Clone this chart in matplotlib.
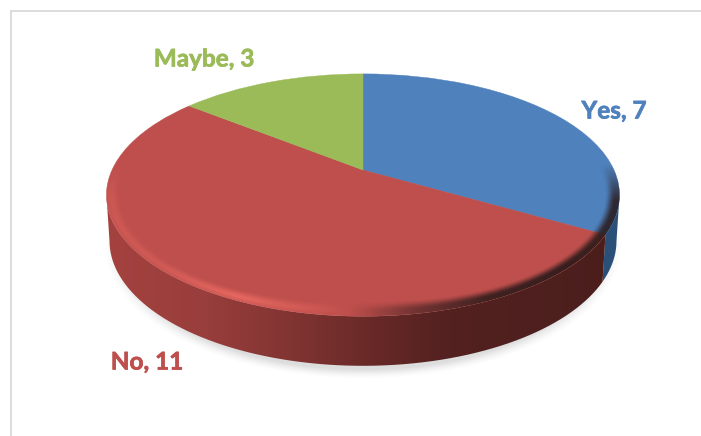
import numpy as np
import matplotlib
matplotlib.use("Agg")
import matplotlib.pyplot as plt
import matplotlib.patheffects as pe
from matplotlib.path import Path
from matplotlib.patches import PathPatch
from matplotlib.transforms import Transform
from matplotlib.colors import LinearSegmentedColormap

categories = ["Yes", "No", "Maybe"]
values = [7, 11, 3]
colors = ["#4F81BD", "#BE4F4C", "#9BBB59"]

W, H = 701, 436


# tilted disc: unit circle to pixels, with perspective
class Tilt(Transform):
	input_dims = 2
	output_dims = 2
	has_inverse = False

	def __init__(self, cx, cy, a, b, k=0.207):
		super().__init__()
		self.cx, self.cy, self.a, self.b, self.k = cx, cy, a, b, k

	def transform_non_affine(self, xy):
		xy = np.asarray(xy)
		d = 1 + self.k * xy[:, 1]
		return np.column_stack([self.cx + self.a * xy[:, 0] / d, self.cy - self.b * xy[:, 1] / d])


top = Tilt(363, 170, 251, 116)
bottom = Tilt(363, 215, 248, 119.6)


def rim(tilt, deg):
	t = np.radians(deg)
	return tilt.transform_non_affine(np.column_stack([np.sin(t), np.cos(t)]))


def wall(ax, deg_from, deg_to, stops):
	deg = np.linspace(deg_from, deg_to, 80)
	pts = np.vstack([rim(top, deg), rim(bottom, deg)[::-1]])
	patch = PathPatch(Path(pts, closed=False), fc="none", ec="none")
	ax.add_patch(patch)
	cmap = LinearSegmentedColormap.from_list("w", stops)
	img = ax.imshow(np.linspace(0, 1, 256)[None, :], extent=(100, 630, 380, 190), cmap=cmap, aspect="auto", zorder=2)
	img.set_clip_path(patch)


def label(ax, x, y, i):
	ax.text(x, y, "%s, %d" % (categories[i], values[i]), color=colors[i], fontsize=17.5, family="Lato", weight="bold",
		ha="center", va="center", zorder=5, path_effects=[pe.withStroke(linewidth=0.5, foreground=colors[i])])


fig = plt.figure(figsize=(W / 100, H / 100), dpi=100)
ax = fig.add_axes([0, 0, 1, 1])

yy, xx = np.mgrid[0:H, 0:W] + 0.5

# soft shadow under the disc
r = np.hypot((xx - 363) / 259, (yy - 247) / 132)
fade = np.clip((1.0 - r) / 0.07, 0, 1)
shadow = np.zeros((H, W, 4))
shadow[..., :3] = 0.5
shadow[..., 3] = 0.26 * fade ** 1.5
ax.imshow(shadow, extent=(0, W, H, 0), aspect="auto", zorder=1, interpolation="bilinear")

# side wall, angles clockwise from the top, 102 and 258 are the silhouette
edges = np.cumsum(values) / np.sum(values) * 360
wall(ax, 102, edges[0], ["#2A5078", "#2A5078"])
wall(ax, edges[0], 258, [
	(0.00, "#A5423F"), (0.20, "#983E3C"), (0.38, "#7E3331"),
	(0.50, "#6A2A28"), (0.66, "#522120"), (1.00, "#4A1E1C")])

wedges, _ = ax.pie(values, colors=colors, startangle=90, counterclock=False, radius=1)
for w, c in zip(wedges, colors):
	w.set_transform(top + ax.transData)
	w.set_edgecolor(c)
	w.set_linewidth(0.3)
	w.set_zorder(3)

# rounded lip of the top face
dx = (xx - 363) / 256.5
dy = (yy - 195) / 121.2
r = np.hypot(dx, dy)
phi = np.arctan2(dy, dx)
radius_px = np.hypot(256.5 * np.cos(phi), 121.2 * np.sin(phi))
depth = (1 - r) * radius_px
band = np.clip((15 - depth) / 11, 0, 1)
band = band * band * (3 - 2 * band)
nx = np.cos(phi)
side = np.interp(nx, [-1, -0.8, -0.5, -0.2, 0.0, 0.2, 0.5, 0.8, 1], [0.25, 0.3, 0.65, 0.25, -0.1, -0.5, -0.85, -0.9, -0.85])
back = np.clip((np.sin(phi) + 0.25) / 0.3, 0, 1)
# highlight sits on the middle of the lip and falls off towards the wall
peak = np.where(side > 0, 0.45 + 0.55 * np.clip(depth / 5, 0, 1), 1.0)
alpha = np.abs(side) * band * back * peak
lip = np.zeros((H, W, 4))
lip[..., 0] = np.where(side > 0, 1.0, 0.16)
lip[..., 1] = np.where(side > 0, 0.47, 0.10)
lip[..., 2] = np.where(side > 0, 0.43, 0.10)
lip[..., 3] = alpha
lip_img = ax.imshow(lip, extent=(0, W, H, 0), aspect="auto", zorder=4, interpolation="bilinear")
face = PathPatch(Path.unit_circle(), fc="none", ec="none", transform=top + ax.transData)
ax.add_patch(face)
lip_img.set_clip_path(face)

label(ax, 204, 59, 2)
label(ax, 614, 111, 0)
label(ax, 147, 362, 1)

# chart frame, cut off by the crop on the right and below
ax.plot([11, 11, W], [H, 11, 11], color="#D9D9D9", lw=1.3, zorder=0, solid_joinstyle="miter")

ax.set_aspect("auto")
ax.set_xlim(0, W)
ax.set_ylim(H, 0)
ax.axis("off")

fig.savefig("out.png", dpi=100)
